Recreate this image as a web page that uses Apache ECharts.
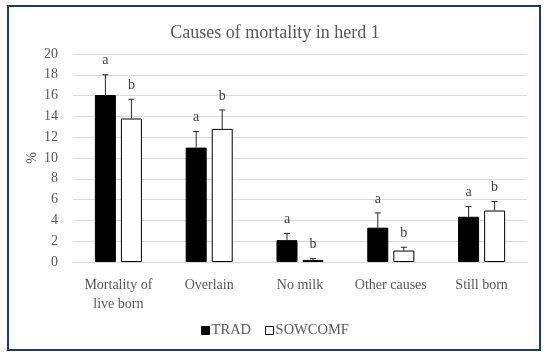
<!DOCTYPE html>
<html><head><meta charset="utf-8">
<script src="https://cdn.jsdelivr.net/npm/echarts@6/dist/echarts.min.js"></script>
<style>html,body{margin:0;padding:0;background:#fff}#c{width:550px;height:358px}</style>
</head><body><div id="c"></div>
<script>
const categories = ['Mortality of\nlive born', 'Overlain', 'No milk', 'Other causes', 'Still born'];
const tradValues = [16.05, 11.0, 2.1, 3.3, 4.35];
const tradErrTop = [18.0, 12.55, 2.75, 4.72, 5.33];
const tradLetters = ['a', 'a', 'a', 'a', 'a'];
const sowValues = [13.8, 12.8, 0.2, 1.1, 4.95];
const sowErrTop = [15.65, 14.62, 0.32, 1.42, 5.82];
const sowLetters = ['b', 'b', 'b', 'b', 'b'];
const yTicks = [0, 20, 2];

const FONT = '"Liberation Serif", "DejaVu Serif", serif';
const chart = echarts.init(document.getElementById('c'));

function errSeries(name, errTop, values, letters, offsetPx) {
  return {
    type: 'custom',
    name: name + ' err',
    z: 5,
    data: categories.map((c, i) => [i, values[i], errTop[i], letters[i]]),
    renderItem: function (params, api) {
      const i = api.value(0);
      const base = api.coord([i, api.value(1)]);
      const top = api.coord([i, api.value(2)]);
      const x = base[0] + offsetPx;
      return {
        type: 'group',
        children: [
          {type: 'line', shape: {x1: x, y1: base[1], x2: x, y2: top[1]}, style: {stroke: '#262626', lineWidth: 1}},
          {type: 'line', shape: {x1: x - 3, y1: top[1], x2: x + 3, y2: top[1]}, style: {stroke: '#262626', lineWidth: 1}},
          {type: 'text', x: x, y: top[1] - 7, style: {text: api.value(3), fill: '#404040', font: '14px ' + FONT, textAlign: 'center', textVerticalAlign: 'bottom'}}
        ]
      };
    }
  };
}

chart.setOption({
  animation: false,
  backgroundColor: '#fff',
  title: {
    text: 'Causes of mortality in herd 1',
    left: 'center', top: 19,
    textStyle: {fontFamily: FONT, fontWeight: 'normal', fontSize: 18, color: '#595959'}
  },
  legend: {
    bottom: 15, left: 'center',
    itemWidth: 8, itemHeight: 8, itemGap: 14,
    textStyle: {fontFamily: FONT, fontSize: 14.5, color: '#595959', padding: [0, 0, 0, -3]},
    data: [
      {name: 'TRAD', icon: 'rect', itemStyle: {color: '#000', borderColor: '#000', borderWidth: 1}},
      {name: 'SOWCOMF', icon: 'rect', itemStyle: {color: '#fff', borderColor: '#000', borderWidth: 1}}
    ]
  },
  grid: {left: 73, right: 23, top: 54, bottom: 96, containLabel: false},
  xAxis: {
    type: 'category', data: categories,
    axisLine: {lineStyle: {color: '#d9d9d9'}},
    axisTick: {show: false},
    axisLabel: {fontFamily: FONT, fontSize: 14, color: '#595959', margin: 14, lineHeight: 19, interval: 0}
  },
  yAxis: {
    type: 'value', min: yTicks[0], max: yTicks[1], interval: yTicks[2],
    name: '%', nameLocation: 'middle', nameGap: 34, nameRotate: 90, nameMoveOverlap: false,
    nameTextStyle: {fontFamily: FONT, fontSize: 14, color: '#595959'},
    axisLine: {show: false}, axisTick: {show: false},
    axisLabel: {fontFamily: FONT, fontSize: 14, color: '#595959', margin: 15},
    splitLine: {lineStyle: {color: '#d9d9d9'}}
  },
  series: [
    {name: 'TRAD', type: 'bar', data: tradValues, barWidth: 21, barGap: '24%',
     itemStyle: {color: '#000', borderColor: '#000', borderWidth: 1}},
    {name: 'SOWCOMF', type: 'bar', data: sowValues, barWidth: 21, barGap: '24%',
     itemStyle: {color: '#fff', borderColor: '#000', borderWidth: 1}},
    errSeries('TRAD', tradErrTop, tradValues, tradLetters, -13),
    errSeries('SOWCOMF', sowErrTop, sowValues, sowLetters, 13)
  ],
  graphic: [
    {type: 'rect', shape: {x: 8, y: 6, width: 532, height: 344}, style: {fill: 'none', stroke: '#1f3a66', lineWidth: 2}, silent: true}
  ]
});
</script></body></html>
